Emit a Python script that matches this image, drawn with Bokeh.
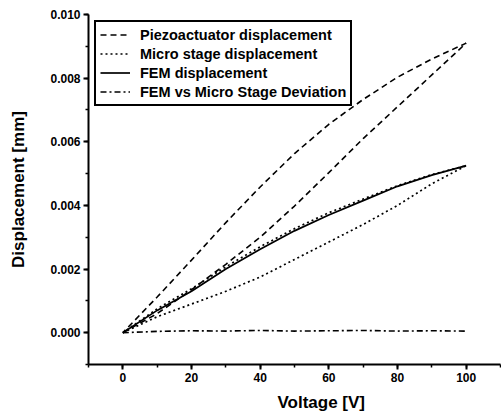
from bokeh.plotting import figure
from bokeh.models import (Range1d, SingleIntervalTicker, PrintfTickFormatter,
                          Legend, LegendItem, Title)
from bokeh.embed import file_html
from bokeh.resources import INLINE

# ---- data ----
voltage = [0, 10, 20, 30, 40, 50, 60, 70, 80, 90, 100]
piezo_rising = [0, 0.0006, 0.00135, 0.00215, 0.00300, 0.00398, 0.00503, 0.0061, 0.0071, 0.0081, 0.0091]
piezo_falling = [0, 0.00112, 0.00228, 0.00346, 0.00458, 0.00563, 0.00655, 0.00733, 0.00803, 0.0086, 0.0091]
stage_rising = [0, 0.0005, 0.0009, 0.0013, 0.00175, 0.0023, 0.00285, 0.0034, 0.0040, 0.00468, 0.00525]
stage_falling = [0, 0.00075, 0.00138, 0.00207, 0.0027, 0.00327, 0.00377, 0.0042, 0.00462, 0.00497, 0.00525]
fem_disp = [0, 0.0007, 0.0013, 0.0020, 0.00262, 0.0032, 0.0037, 0.00415, 0.0046, 0.00495, 0.00525]
deviation = [0, 0.00004, 0.00006, 0.00005, 0.00007, 0.00005, 0.00006, 0.00007, 0.00005, 0.00006, 0.00005]

labels = ["Piezoactuator displacement", "Micro stage displacement",
          "FEM displacement", "FEM vs Micro Stage Deviation"]
x_title = "Voltage [V]"
y_title = "Displacement [mm]"
x_ticks_interval = 20
y_ticks_interval = 0.002

FONT = "Liberation Sans"

p = figure(width=501, height=417, output_backend="svg", toolbar_location=None,
           x_range=Range1d(-10, 110), y_range=Range1d(-0.001, 0.010),
           min_border_left=88, min_border_right=1, min_border_top=14, min_border_bottom=20)
p.outline_line_color = None
p.grid.visible = False
p.background_fill_color = "white"
p.border_fill_color = "white"

loop_x = voltage + voltage[::-1]
r1 = p.line(loop_x, piezo_rising + piezo_falling[::-1], line_color="black",
            line_width=1.6, line_dash="6 4")
r2 = p.line(loop_x, stage_rising + stage_falling[::-1], line_color="black",
            line_width=1.7, line_dash="2 3")
r3 = p.line(voltage, fem_disp, line_color="black", line_width=1.7)
r4 = p.line(voltage, deviation, line_color="black", line_width=1.6, line_dash="6 3 2 3")

for ax in (p.xaxis[0], p.yaxis[0]):
    ax.axis_line_width = 2
    ax.axis_line_color = "black"
    ax.major_tick_line_color = "black"
    ax.minor_tick_line_color = "black"
    ax.major_tick_line_width = 2
    ax.minor_tick_line_width = 1.5
    ax.major_tick_out = 5
    ax.major_tick_in = 0
    ax.minor_tick_out = 3
    ax.minor_tick_in = 0
    ax.major_label_text_font = FONT
    ax.major_label_text_font_style = "bold"
    ax.major_label_text_font_size = "12px"
    ax.major_label_text_color = "black"
    ax.major_label_standoff = 3

p.xaxis.ticker = SingleIntervalTicker(interval=x_ticks_interval, num_minor_ticks=2)
p.yaxis.ticker = SingleIntervalTicker(interval=y_ticks_interval, num_minor_ticks=2)
p.yaxis.formatter = PrintfTickFormatter(format="%.3f")

p.yaxis.axis_label = y_title
p.yaxis.axis_label_text_font = FONT
p.yaxis.axis_label_text_font_style = "bold"
p.yaxis.axis_label_text_font_size = "17px"
p.yaxis.axis_label_text_color = "black"
p.yaxis.axis_label_standoff = 19

xt = Title(text=x_title, align="left", offset=189, text_font=FONT,
           text_font_style="bold", text_font_size="17px", text_color="black",
           standoff=12)
p.add_layout(xt, "below")

legend = Legend(items=[LegendItem(label=labels[0], renderers=[r1]),
                       LegendItem(label=labels[1], renderers=[r2]),
                       LegendItem(label=labels[2], renderers=[r3]),
                       LegendItem(label=labels[3], renderers=[r4])],
                location="top_left")
legend.label_text_font = FONT
legend.label_text_font_style = "bold"
legend.label_text_font_size = "14.5px"
legend.label_text_color = "black"
legend.border_line_color = "black"
legend.border_line_alpha = 1
legend.border_line_width = 2
legend.background_fill_alpha = 1
legend.glyph_width = 30
legend.glyph_height = 17
legend.label_height = 17
legend.spacing = 2
legend.padding = 4
legend.margin = 6
legend.label_standoff = 10
p.add_layout(legend)

open("out.html", "w").write(file_html(p, INLINE))
